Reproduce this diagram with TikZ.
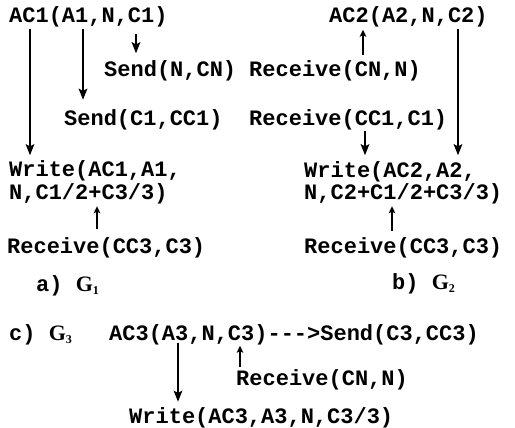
\documentclass[tikz,border=0pt]{standalone}
\usepackage{fontspec}
\usetikzlibrary{arrows.meta}
\newfontfamily\monof{Liberation Mono}
\newfontfamily\gserif{Liberation Serif}
\newcommand\Gsub[1]{{\gserif\bfseries G\raisebox{-3pt}{\fontsize{12}{12}\selectfont #1}}}
\begin{document}
\begin{tikzpicture}[x=1pt,y=-1pt,
  lbl/.style={anchor=west,inner sep=0pt,text height=13pt,text depth=0pt,
    font=\monof\bfseries\fontsize{22}{24}\selectfont},
  arr/.style={-{Stealth[length=11pt,width=8.5pt,inset=2pt]},line width=2.5pt},
  sarr/.style={-{Stealth[length=7pt,width=6.5pt,inset=1.5pt]},line width=2.3pt}]
\useasboundingbox (0,0) rectangle (515,428);
% columns for connectors
\coordinate (c30) at (30,0);
\coordinate (c83) at (83,0);
\coordinate (c136) at (136,0);
\coordinate (c97) at (97,0);
\coordinate (c363) at (363,0);
\coordinate (c365) at (365,0);
\coordinate (c458) at (458,0);
\coordinate (c392) at (392,0);
\coordinate (c178) at (178,0);
\coordinate (c240) at (240,0);
% G1
\node[lbl] (ac1) at (9,16) {AC1(A1,N,C1)};
\node[lbl] (sendn) at (104,70) {Send(N,CN)};
\node[lbl] (sendc) at (64,118.5) {Send(C1,CC1)};
\node[lbl] (w1a) at (9,170) {Write(AC1,A1,};
\node[lbl] (w1b) at (9,193.5) {N,C1/2+C3/3)};
\node[lbl] (r1) at (7,246.5) {Receive(CC3,C3)};
\node[lbl] (la) at (36,285) {a) \Gsub{1}};
% G2
\node[lbl] (ac2) at (329,16) {AC2(A2,N,C2)};
\node[lbl] (rcn) at (249,70) {Receive(CN,N)};
\node[lbl] (rcc) at (249,118.5) {Receive(CC1,C1)};
\node[lbl] (w2a) at (304,171) {Write(AC2,A2,};
\node[lbl] (w2b) at (304,193.5) {N,C2+C1/2+C3/3)};
\node[lbl] (r2) at (304,247.5) {Receive(CC3,C3)};
\node[lbl] (lb) at (392,283) {b) \Gsub{2}};
% G3
\node[lbl] (lc) at (9,334) {c) \Gsub{3}};
\node[lbl] (ac3) at (109,334) {AC3(A3,N,C3)--->Send(C3,CC3)};
\node[lbl] (rcn3) at (236,379) {Receive(CN,N)};
\node[lbl] (w3) at (129,416.5) {Write(AC3,A3,N,C3/3)};
% connectors G1
\draw[arr,shorten <=6pt,shorten >=8pt] (ac1.south -| c30) -- (w1a.north -| c30);
\draw[arr,shorten <=6pt,shorten >=12pt] (ac1.south -| c83) -- (sendc.north -| c83);
\draw[arr,shorten <=11pt,shorten >=10pt] (ac1.south -| c136) -- (sendn.north -| c136);
\draw[sarr,shorten <=11pt,shorten >=6pt] (r1.north -| c97) -- (w1b.south -| c97);
% connectors G2
\draw[sarr,shorten <=8pt,shorten >=7pt] (rcn.north -| c363) -- (ac2.south -| c363);
\draw[arr,shorten <=6pt,shorten >=9pt] (rcc.south -| c365) -- (w2a.north -| c365);
\draw[arr,shorten <=6pt,shorten >=9pt] (ac2.south -| c458) -- (w2a.north -| c458);
\draw[sarr,shorten <=10pt,shorten >=6pt] (r2.north -| c392) -- (w2b.south -| c392);
% connectors G3
\draw[arr,shorten <=2pt,shorten >=8pt] (ac3.south -| c178) -- (w3.north -| c178);
\draw[sarr,shorten <=5pt,shorten >=5pt] (rcn3.north -| c240) -- (ac3.south -| c240);
\end{tikzpicture}
\end{document}
